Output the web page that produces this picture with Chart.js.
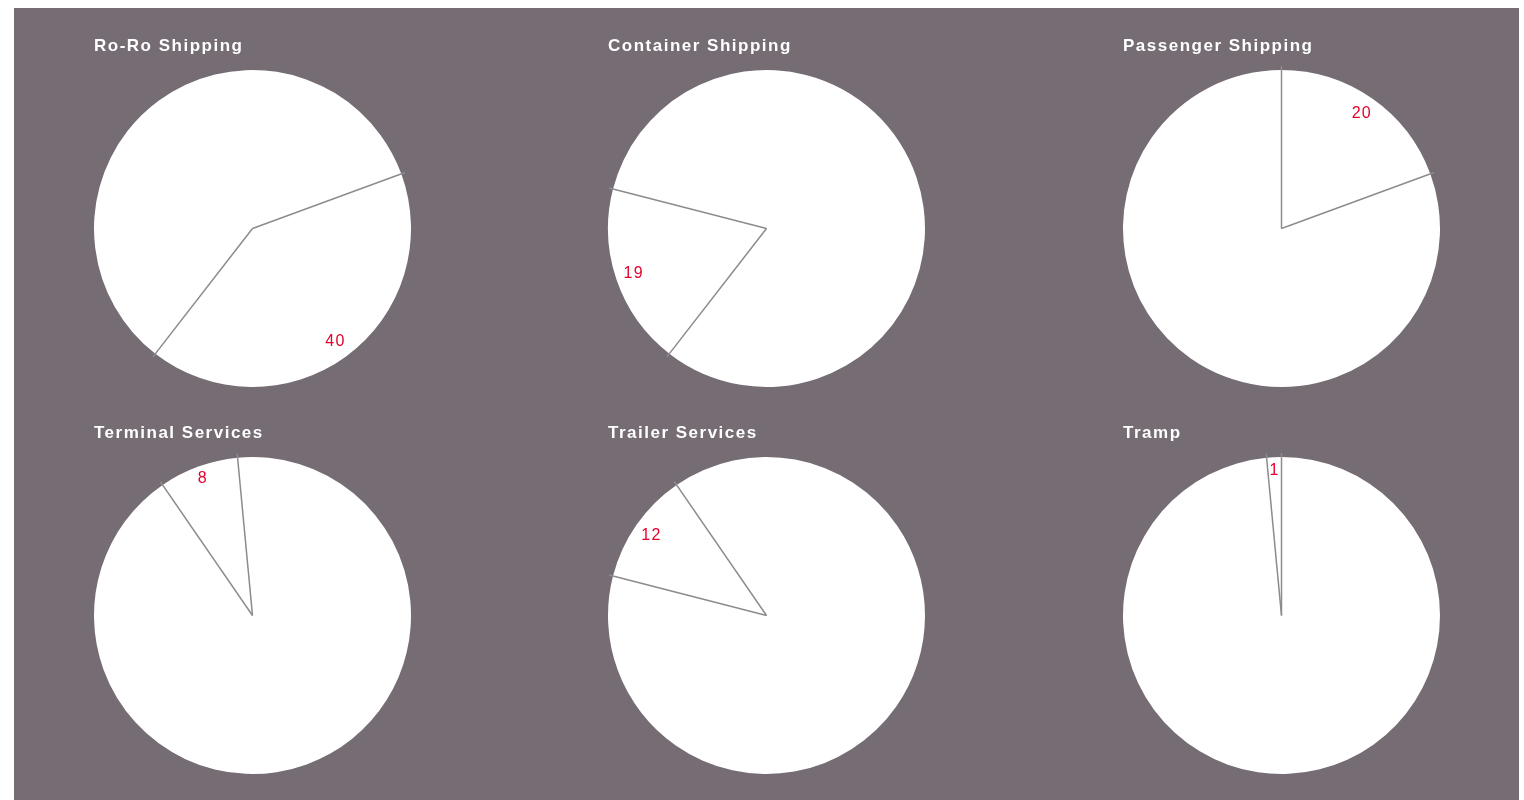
<!DOCTYPE html>
<html lang="en">
<head>
    <meta charset="UTF-8">
    <title>Business segments</title>
    <script src="https://cdn.jsdelivr.net/npm/chart.js"></script>
    <style>
        body {
            margin: 0;
            background: #ffffff;
        }
        .panel {
            position: absolute;
            left: 14px;
            top: 8px;
            width: 1505px;
            height: 792px;
            background: #756c74;
        }
        canvas {
            position: absolute;
        }
    </style>
</head>
<body>
    <div class="panel"></div>

    <script>
        // one small pie per business segment
        const categories = ['Ro-Ro Shipping', 'Container Shipping', 'Passenger Shipping', 'Terminal Services', 'Trailer Services', 'Tramp'];
        const printedValues = [40, 19, 20, 8, 12, 1];
        // part of the circle each highlighted slice covers in the picture (%)
        const sliceShares = [41.1, 18.5, 19.4, 8.1, 11.4, 1.5];
        // order the slices follow clockwise from 12 o'clock
        const ringOrder = ['Passenger Shipping', 'Ro-Ro Shipping', 'Container Shipping', 'Trailer Services', 'Terminal Services', 'Tramp'];

        const centersX = [252.5, 766.75, 1281];
        const centersY = [228.5, 615.5];
        const R = 158.5;
        const PAD = 6;

        function sliceStart(name) {
            let sum = 0;
            for (const n of ringOrder) {
                if (n === name) break;
                sum += sliceShares[categories.indexOf(n)];
            }
            return sum;
        }

        // separator lines + red value label for the highlighted slice
        const sliceMarks = {
            id: 'sliceMarks',
            beforeDraw(chart) {
                chart.ctx.letterSpacing = '1.5px';
            },
            afterDatasetsDraw(chart) {
                const ctx = chart.ctx;
                const arc = chart.getDatasetMeta(0).data[0];
                const { x, y, startAngle, endAngle, outerRadius } = arc.getProps(['x', 'y', 'startAngle', 'endAngle', 'outerRadius'], true);
                ctx.save();
                ctx.strokeStyle = '#8c8c8c';
                ctx.lineWidth = 1.5;
                [startAngle, endAngle].forEach(a => {
                    ctx.beginPath();
                    ctx.moveTo(x, y);
                    ctx.lineTo(x + Math.cos(a) * (outerRadius + 4), y + Math.sin(a) * (outerRadius + 4));
                    ctx.stroke();
                });
                const text = String(chart.options.plugins.sliceMarks.value);
                ctx.font = '16px "Liberation Sans", Arial, sans-serif';
                ctx.letterSpacing = '1.2px';
                ctx.fillStyle = '#e4002b';
                ctx.textAlign = 'center';
                ctx.textBaseline = 'middle';
                const w = ctx.measureText(text).width;
                const mid = (startAngle + endAngle) / 2;
                const d = outerRadius - 8 - w / 2;
                ctx.fillText(text, x + Math.cos(mid) * d, y + Math.sin(mid) * d);
                ctx.restore();
            }
        };

        categories.forEach((name, i) => {
            const col = i % 3;
            const row = Math.floor(i / 3);
            const canvas = document.createElement('canvas');
            canvas.width = 2 * R + 2 * PAD;
            canvas.height = 2 * R + 40 + PAD;
            canvas.style.left = (centersX[col] - R - PAD) + 'px';
            canvas.style.top = (centersY[row] - R - 40) + 'px';
            document.body.appendChild(canvas);

            const share = sliceShares[i];
            new Chart(canvas, {
                type: 'pie',
                data: {
                    labels: [name, 'Other'],
                    datasets: [{
                        data: [share, 100 - share],
                        backgroundColor: ['#ffffff', '#ffffff'],
                        borderWidth: 0
                    }]
                },
                options: {
                    responsive: false,
                    animation: false,
                    rotation: sliceStart(name) * 3.6,
                    layout: { padding: { left: PAD, right: PAD, bottom: PAD, top: 0 } },
                    plugins: {
                        legend: { display: false },
                        tooltip: { enabled: false },
                        title: {
                            display: true,
                            text: name,
                            align: 'start',
                            color: '#ffffff',
                            font: { family: '"Liberation Sans", Arial, sans-serif', size: 17, weight: 'bold', lineHeight: 1.2 },
                            padding: { top: 6.3, bottom: 13.3 }
                        },
                        sliceMarks: { value: printedValues[i] }
                    }
                },
                plugins: [sliceMarks]
            });
        });
    </script>
</body>
</html>
